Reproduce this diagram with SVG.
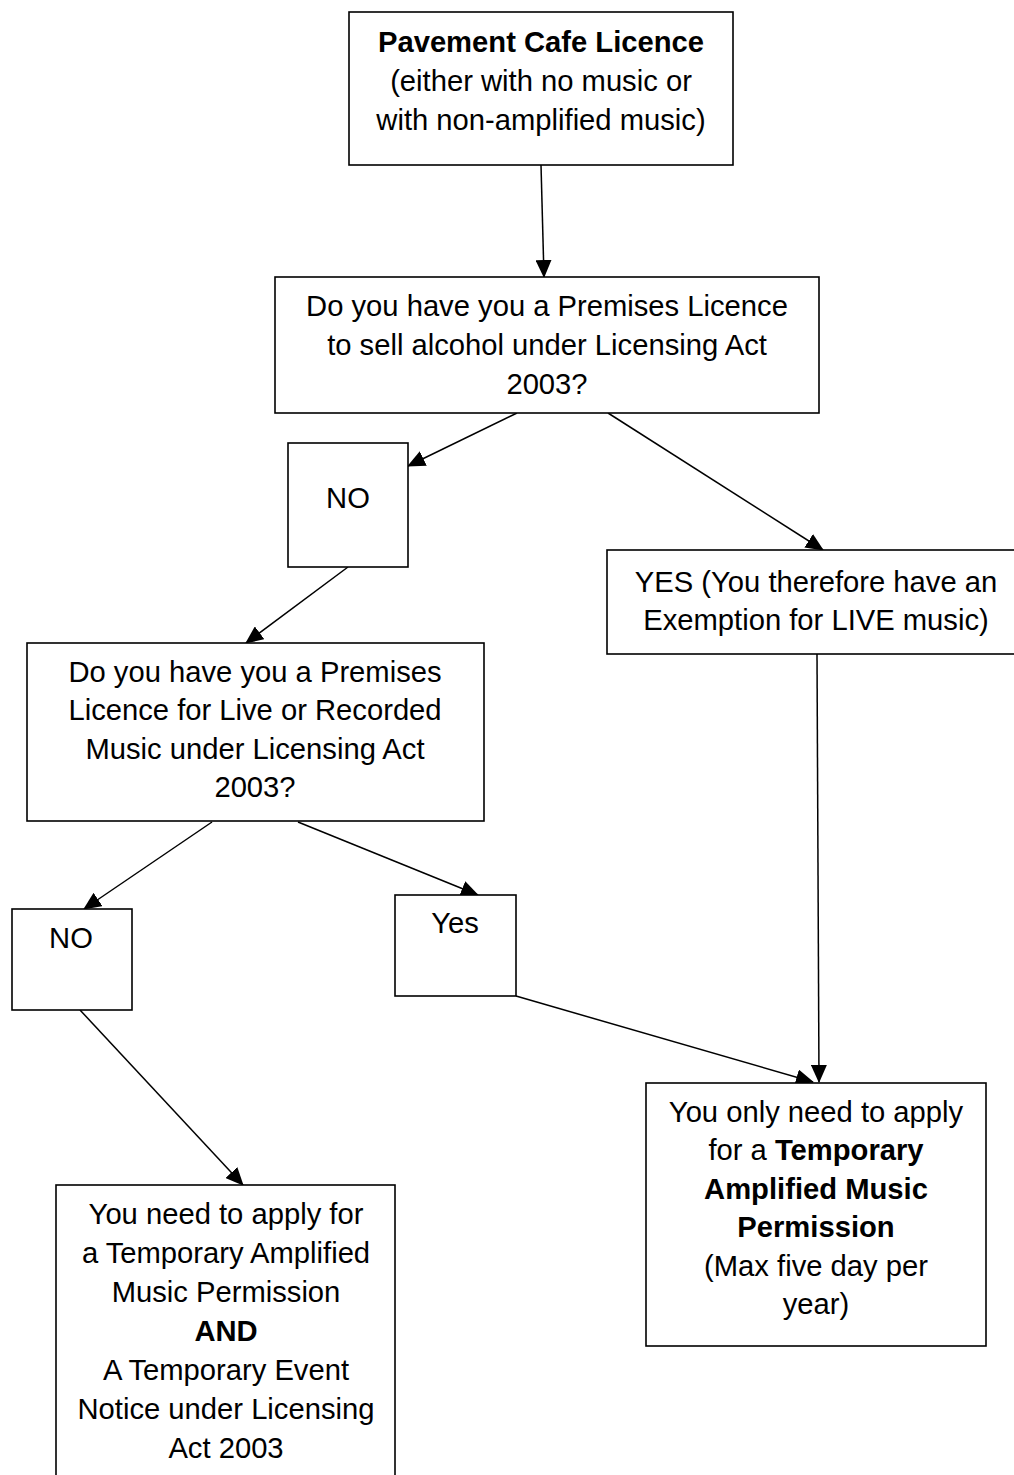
<svg xmlns="http://www.w3.org/2000/svg" width="1014" height="1475" viewBox="0 0 1014 1475">
<style>
rect{fill:#fff;stroke:#000;stroke-width:1.6}
text{font-family:"Liberation Sans",Arial,sans-serif;font-size:29.2px;fill:#000;text-anchor:middle}
.b{font-weight:bold}
#connectors line{stroke:#000;stroke-width:1.5;marker-end:url(#ah)}
</style>
<defs>
<marker id="ah" markerUnits="userSpaceOnUse" markerWidth="18" markerHeight="16" viewBox="0 0 18 16" refX="17" refY="8" orient="auto">
<path d="M0,0L18,8L0,16z" fill="#000"/>
</marker>
</defs>
<rect x="0" y="0" width="1014" height="1475" style="stroke:none"/>
<g id="connectors">
<line x1="541" y1="165" x2="544" y2="277"/>
<line x1="517" y1="413" x2="408" y2="466"/>
<line x1="608" y1="413" x2="823" y2="550"/>
<line x1="348" y1="567" x2="246" y2="643"/>
<line x1="212" y1="822" x2="84" y2="909"/>
<line x1="298" y1="822" x2="478" y2="895"/>
<line x1="80" y1="1010" x2="243" y2="1185"/>
<line x1="516" y1="996" x2="813" y2="1082"/>
<line x1="817" y1="654" x2="819" y2="1082"/>
</g>
<g id="n1">
<rect x="349" y="12" width="384" height="153"/>
<text x="541" y="52" class="b">Pavement Cafe Licence</text>
<text x="541" y="91">(either with no music or</text>
<text x="541" y="130">with non-amplified music)</text>
</g>
<g id="n2">
<rect x="275" y="277" width="544" height="136"/>
<text x="547" y="316">Do you have you a Premises Licence</text>
<text x="547" y="355">to sell alcohol under Licensing Act</text>
<text x="547" y="394">2003?</text>
</g>
<g id="n3">
<rect x="288" y="443" width="120" height="124"/>
<text x="348" y="508">NO</text>
</g>
<g id="n4">
<rect x="607" y="550" width="418" height="104"/>
<text x="816" y="592">YES (You therefore have an</text>
<text x="816" y="630">Exemption for LIVE music)</text>
</g>
<g id="n5">
<rect x="27" y="643" width="457" height="178"/>
<text x="255" y="682">Do you have you a Premises</text>
<text x="255" y="720">Licence for Live or Recorded</text>
<text x="255" y="759">Music under Licensing Act</text>
<text x="255" y="797">2003?</text>
</g>
<g id="n6">
<rect x="12" y="909" width="120" height="101"/>
<text x="71" y="948">NO</text>
</g>
<g id="n7">
<rect x="395" y="895" width="121" height="101"/>
<text x="455" y="933">Yes</text>
</g>
<g id="n8">
<rect x="646" y="1083" width="340" height="263"/>
<text x="816" y="1122">You only need to apply</text>
<text x="816" y="1160">for a <tspan class="b">Temporary</tspan></text>
<text x="816" y="1199" class="b">Amplified Music</text>
<text x="816" y="1237" class="b">Permission</text>
<text x="816" y="1276">(Max five day per</text>
<text x="816" y="1314">year)</text>
</g>
<g id="n9">
<rect x="56" y="1185" width="339" height="310"/>
<text x="226" y="1224">You need to apply for</text>
<text x="226" y="1263">a Temporary Amplified</text>
<text x="226" y="1302">Music Permission</text>
<text x="226" y="1341" class="b">AND</text>
<text x="226" y="1380">A Temporary Event</text>
<text x="226" y="1419">Notice under Licensing</text>
<text x="226" y="1458">Act 2003</text>
</g>
</svg>
